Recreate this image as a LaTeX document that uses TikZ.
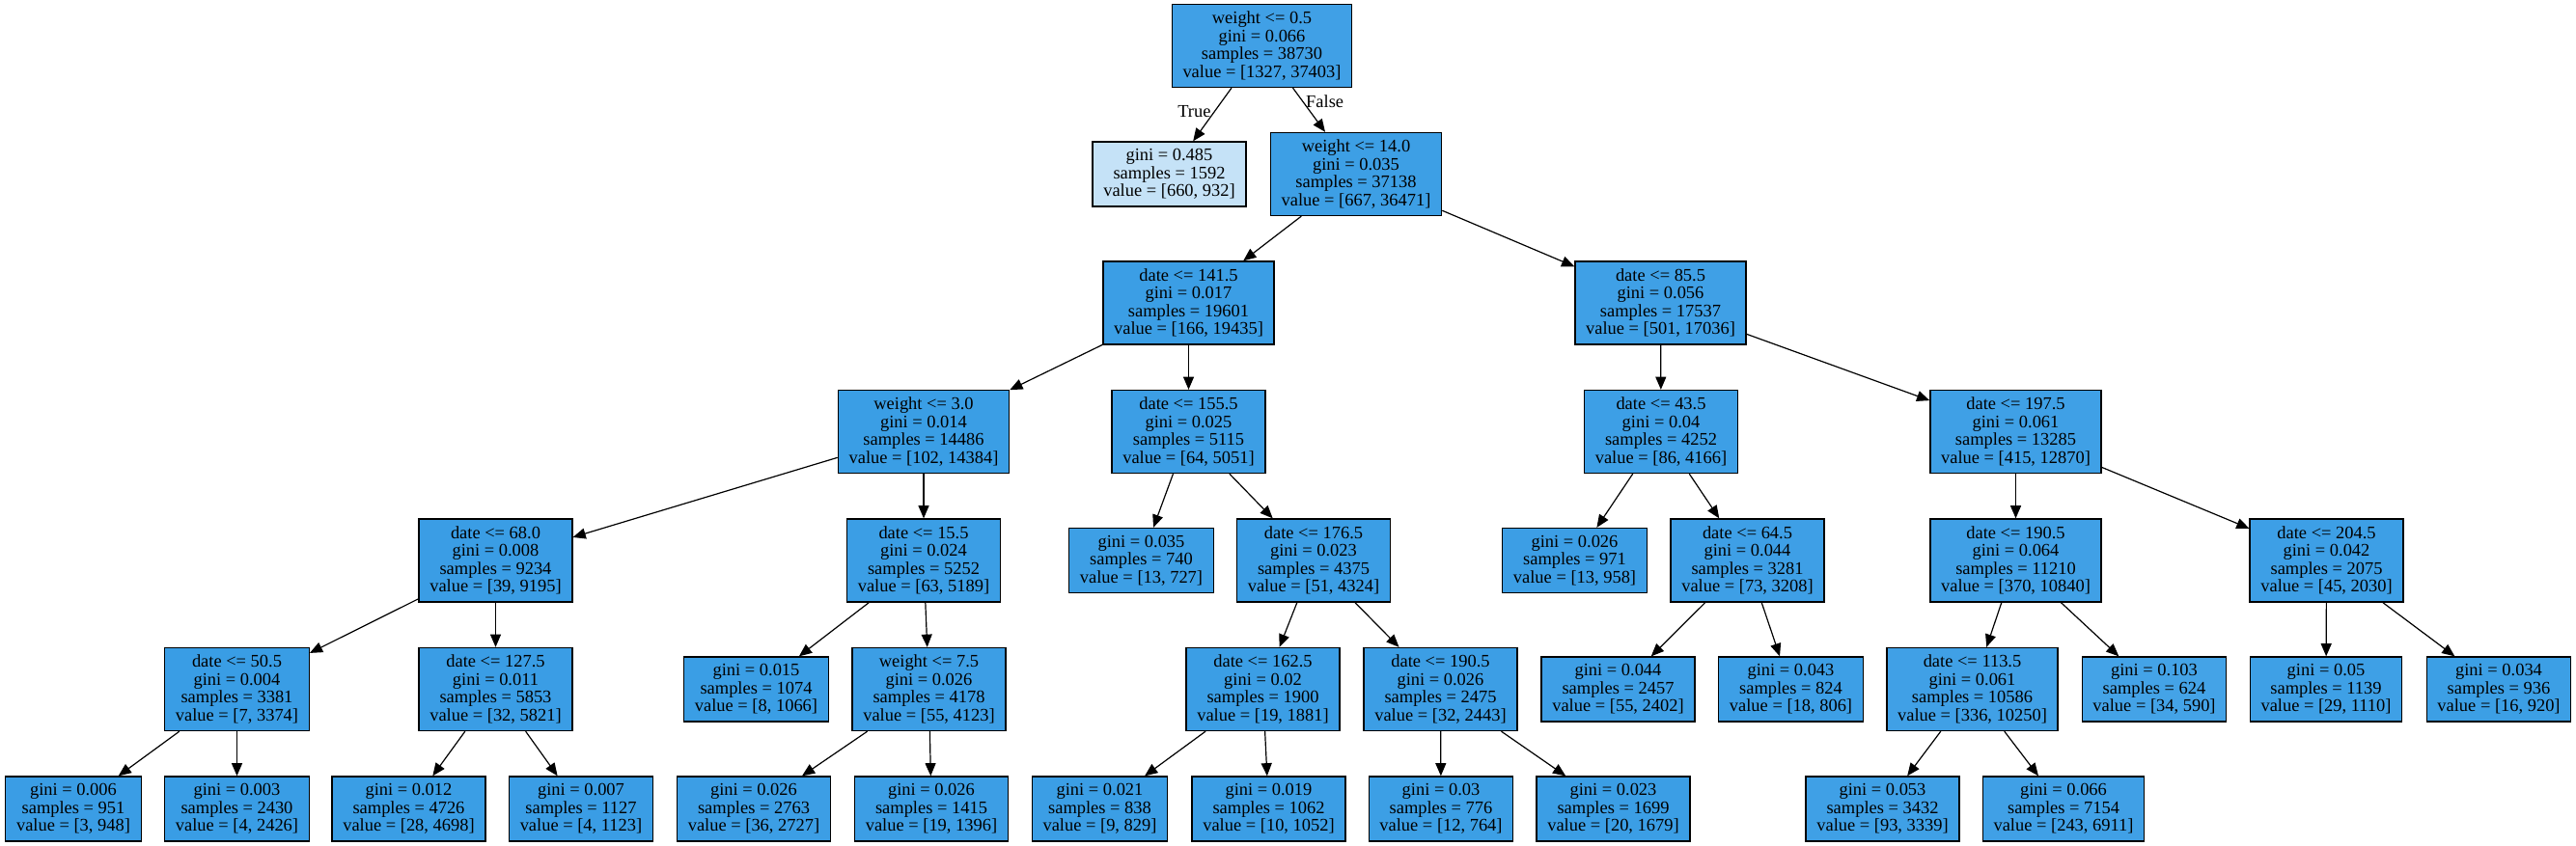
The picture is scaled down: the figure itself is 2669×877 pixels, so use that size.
\documentclass[tikz,border=0pt]{standalone}
\usepackage{fontspec}
\setmainfont{Liberation Serif}
\usetikzlibrary{arrows.meta}
\definecolor{treeblue}{RGB}{57,157,229}

\begin{document}
\begin{tikzpicture}[
			x=0.5pt, y=-0.5pt,
			box/.style={draw, line width=0.66pt, rectangle, align=center, inner xsep=5.6pt, inner ysep=0pt, font=\fontsize{9.22pt}{9.3pt}\selectfont},
			split/.style={box, minimum height=43pt, fill=treeblue!#1!white},
			leaf/.style={box, minimum height=33.5pt, fill=treeblue!#1!white},
			arrow/.style={line width=0.6pt, -{Triangle[length=6.6pt, width=5.5pt]}},
			branch/.style={font=\fontsize{9.22pt}{9.3pt}\selectfont, inner sep=1.5pt}
		]
		\useasboundingbox (0,0) rectangle (2669,877);

		% Draw the boxes
		\node[split=96.5] (n0) at (1307.5,47.5) {weight <= 0.5\\gini = 0.066\\samples = 38730\\value = [1327, 37403]};
		\node[leaf=29.2] (n1) at (1211.5,180.5) {gini = 0.485\\samples = 1592\\value = [660, 932]};
		\node[split=98.2] (n2) at (1405,180.5) {weight <= 14.0\\gini = 0.035\\samples = 37138\\value = [667, 36471]};
		\node[split=99.1] (n3) at (1231.5,314) {date <= 141.5\\gini = 0.017\\samples = 19601\\value = [166, 19435]};
		\node[split=99.3] (n4) at (957,447.5) {weight <= 3.0\\gini = 0.014\\samples = 14486\\value = [102, 14384]};
		\node[split=99.6] (n5) at (513.5,581) {date <= 68.0\\gini = 0.008\\samples = 9234\\value = [39, 9195]};
		\node[split=99.8] (n6) at (245.5,714.5) {date <= 50.5\\gini = 0.004\\samples = 3381\\value = [7, 3374]};
		\node[leaf=99.7] (n7) at (76,838.5) {gini = 0.006\\samples = 951\\value = [3, 948]};
		\node[leaf=99.8] (n8) at (245.5,838.5) {gini = 0.003\\samples = 2430\\value = [4, 2426]};
		\node[split=99.5] (n9) at (513.5,714.5) {date <= 127.5\\gini = 0.011\\samples = 5853\\value = [32, 5821]};
		\node[leaf=99.4] (n10) at (423.5,838.5) {gini = 0.012\\samples = 4726\\value = [28, 4698]};
		\node[leaf=99.6] (n11) at (602,838.5) {gini = 0.007\\samples = 1127\\value = [4, 1123]};
		\node[split=98.8] (n12) at (957,581) {date <= 15.5\\gini = 0.024\\samples = 5252\\value = [63, 5189]};
		\node[leaf=99.3] (n13) at (783.5,714.5) {gini = 0.015\\samples = 1074\\value = [8, 1066]};
		\node[split=98.7] (n14) at (962.5,714.5) {weight <= 7.5\\gini = 0.026\\samples = 4178\\value = [55, 4123]};
		\node[leaf=98.7] (n15) at (781,838.5) {gini = 0.026\\samples = 2763\\value = [36, 2727]};
		\node[leaf=98.6] (n16) at (965,838.5) {gini = 0.026\\samples = 1415\\value = [19, 1396]};
		\node[split=98.7] (n17) at (1231.5,447.5) {date <= 155.5\\gini = 0.025\\samples = 5115\\value = [64, 5051]};
		\node[leaf=98.2] (n18) at (1182.5,581) {gini = 0.035\\samples = 740\\value = [13, 727]};
		\node[split=98.8] (n19) at (1361,581) {date <= 176.5\\gini = 0.023\\samples = 4375\\value = [51, 4324]};
		\node[split=99.0] (n20) at (1308.5,714.5) {date <= 162.5\\gini = 0.02\\samples = 1900\\value = [19, 1881]};
		\node[leaf=98.9] (n21) at (1139.5,838.5) {gini = 0.021\\samples = 838\\value = [9, 829]};
		\node[leaf=99.0] (n22) at (1314.5,838.5) {gini = 0.019\\samples = 1062\\value = [10, 1052]};
		\node[split=98.7] (n23) at (1492.5,714.5) {date <= 190.5\\gini = 0.026\\samples = 2475\\value = [32, 2443]};
		\node[leaf=98.4] (n24) at (1493,838.5) {gini = 0.03\\samples = 776\\value = [12, 764]};
		\node[leaf=98.8] (n25) at (1671.5,838.5) {gini = 0.023\\samples = 1699\\value = [20, 1679]};
		\node[split=97.1] (n26) at (1720.5,314) {date <= 85.5\\gini = 0.056\\samples = 17537\\value = [501, 17036]};
		\node[split=97.9] (n27) at (1721,447.5) {date <= 43.5\\gini = 0.04\\samples = 4252\\value = [86, 4166]};
		\node[leaf=98.6] (n28) at (1631.5,581) {gini = 0.026\\samples = 971\\value = [13, 958]};
		\node[split=97.7] (n29) at (1810.5,581) {date <= 64.5\\gini = 0.044\\samples = 3281\\value = [73, 3208]};
		\node[leaf=97.7] (n30) at (1676.5,714.5) {gini = 0.044\\samples = 2457\\value = [55, 2402]};
		\node[leaf=97.8] (n31) at (1855.5,714.5) {gini = 0.043\\samples = 824\\value = [18, 806]};
		\node[split=96.8] (n32) at (2088.5,447.5) {date <= 197.5\\gini = 0.061\\samples = 13285\\value = [415, 12870]};
		\node[split=96.6] (n33) at (2088.5,581) {date <= 190.5\\gini = 0.064\\samples = 11210\\value = [370, 10840]};
		\node[split=96.7] (n34) at (2043.5,714.5) {date <= 113.5\\gini = 0.061\\samples = 10586\\value = [336, 10250]};
		\node[leaf=97.2] (n35) at (1950.5,838.5) {gini = 0.053\\samples = 3432\\value = [93, 3339]};
		\node[leaf=96.5] (n36) at (2138,838.5) {gini = 0.066\\samples = 7154\\value = [243, 6911]};
		\node[leaf=94.2] (n37) at (2232,714.5) {gini = 0.103\\samples = 624\\value = [34, 590]};
		\node[split=97.8] (n38) at (2410.5,581) {date <= 204.5\\gini = 0.042\\samples = 2075\\value = [45, 2030]};
		\node[leaf=97.4] (n39) at (2410,714.5) {gini = 0.05\\samples = 1139\\value = [29, 1110]};
		\node[leaf=98.3] (n40) at (2589,714.5) {gini = 0.034\\samples = 936\\value = [16, 920]};

		% Draw the arrows
		\draw[arrow] (n0) -- node[branch, pos=0.45, left] {True} (n1);
		\draw[arrow] (n0) -- node[branch, pos=0.3, right] {False} (n2);
		\draw[arrow] (n2) -- (n3);
		\draw[arrow] (n2) -- (n26);
		\draw[arrow] (n3) -- (n4);
		\draw[arrow] (n3) -- (n17);
		\draw[arrow] (n4) -- (n5);
		\draw[arrow] (n4) -- (n12);
		\draw[arrow] (n5) -- (n6);
		\draw[arrow] (n5) -- (n9);
		\draw[arrow] (n6) -- (n7);
		\draw[arrow] (n6) -- (n8);
		\draw[arrow] (n9) -- (n10);
		\draw[arrow] (n9) -- (n11);
		\draw[arrow] (n12) -- (n13);
		\draw[arrow] (n12) -- (n14);
		\draw[arrow] (n14) -- (n15);
		\draw[arrow] (n14) -- (n16);
		\draw[arrow] (n17) -- (n18);
		\draw[arrow] (n17) -- (n19);
		\draw[arrow] (n19) -- (n20);
		\draw[arrow] (n19) -- (n23);
		\draw[arrow] (n20) -- (n21);
		\draw[arrow] (n20) -- (n22);
		\draw[arrow] (n23) -- (n24);
		\draw[arrow] (n23) -- (n25);
		\draw[arrow] (n26) -- (n27);
		\draw[arrow] (n26) -- (n32);
		\draw[arrow] (n27) -- (n28);
		\draw[arrow] (n27) -- (n29);
		\draw[arrow] (n29) -- (n30);
		\draw[arrow] (n29) -- (n31);
		\draw[arrow] (n32) -- (n33);
		\draw[arrow] (n32) -- (n38);
		\draw[arrow] (n33) -- (n34);
		\draw[arrow] (n33) -- (n37);
		\draw[arrow] (n34) -- (n35);
		\draw[arrow] (n34) -- (n36);
		\draw[arrow] (n38) -- (n39);
		\draw[arrow] (n38) -- (n40);

		\end{tikzpicture}
\end{document}
